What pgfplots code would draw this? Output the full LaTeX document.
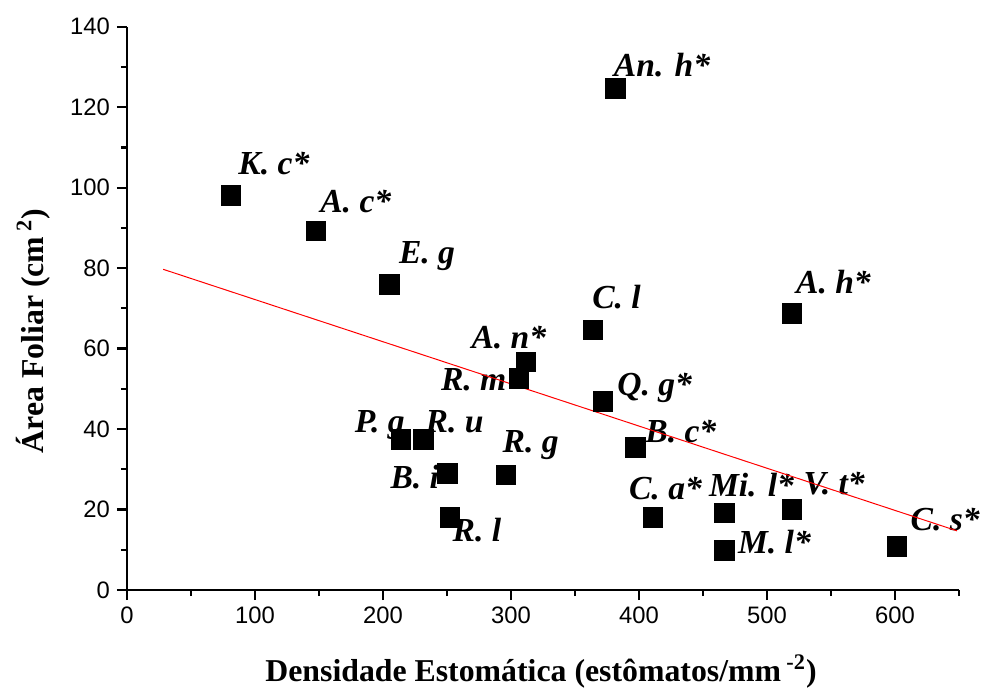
\documentclass[border=0pt]{standalone}
\usepackage{pgfplots}
\pgfplotsset{compat=1.18}
\usepackage{fontspec}
\setmainfont{Liberation Serif}
\newfontfamily\arial{Liberation Sans}
\tikzset{lab/.style={anchor=base west, inner sep=0pt, font=\bfseries\itshape\fontsize{16.8}{18}\selectfont}}

\pgfplotstableread{
x y
81.3 98.0
147.6 89.2
205.2 76.0
381.7 124.7
364.0 64.6
519.3 68.8
311.5 56.7
306.3 52.6
371.8 46.8
397.3 35.5
296.0 28.6
411.0 18.1
466.9 19.2
466.9 9.8
519.3 20.1
601.5 10.8
214.1 37.4
231.5 37.4
250.4 29.0
252.3 18.1
}\pts

\begin{document}
\begin{tikzpicture}
\useasboundingbox (-63.5pt,-48.5pt) rectangle (427.5pt,295pt);
\begin{axis}[
  at={(0,0)}, anchor=south west,
  scale only axis, width=416pt, height=281.65pt,
  xmin=0, xmax=650, ymin=0, ymax=140,
  axis x line=bottom, axis y line=left,
  axis line style={-, line width=1.2pt, black},
  xtick={0,100,...,600}, minor xtick={50,150,...,650},
  ytick={0,20,...,140}, minor ytick={10,30,...,130},
  tick align=outside, major tick length=5pt, minor tick length=3pt,
  tick style={line width=1.1pt, black},
  ticklabel style={font=\arial\fontsize{11.9}{13}\selectfont},
  /pgf/number format/assume math mode=true,
  xlabel={Densidade Estomática (estômatos/mm\,\textsuperscript{-2})},
  ylabel={Área Foliar (cm\,\textsuperscript{2})},
  xlabel style={at={(axis description cs:0.4976,-0.163)}, anchor=base, font=\bfseries\fontsize{15.9}{18}\selectfont},
  ylabel style={at={(axis description cs:-0.0998,0.46)}, anchor=base, font=\bfseries\fontsize{15.9}{18}\selectfont},
  clip=false,
]
\node[lab, xshift=3.5pt, yshift=10.5pt] at (axis cs:81.3,98.0) {K. c*};
\node[lab, xshift=2pt, yshift=9.5pt] at (axis cs:147.6,89.2) {A. c*};
\node[lab, xshift=4.5pt, yshift=10.5pt] at (axis cs:205.2,76.0) {E. g};
\node[lab, xshift=-1pt, yshift=6pt] at (axis cs:381.7,124.7) {An. h*};
\node[lab, xshift=-0.5pt, yshift=11pt] at (axis cs:364.0,64.6) {C. l};
\node[lab, xshift=2pt, yshift=10pt] at (axis cs:519.3,68.8) {A. h*};
\node[lab, xshift=-27.3pt, yshift=6.8pt] at (axis cs:311.5,56.7) {A. n*};
\node[lab, xshift=-39.2pt, yshift=-6.3pt] at (axis cs:306.3,52.6) {R. m};
\node[lab, xshift=7pt, yshift=3.3pt] at (axis cs:371.8,46.8) {Q. g*};
\node[lab, xshift=4.7pt, yshift=2.2pt] at (axis cs:397.3,35.5) {B. c*};
\node[lab, xshift=-1.8pt, yshift=11pt] at (axis cs:296.0,28.6) {R. g};
\node[lab, xshift=-12.2pt, yshift=8.7pt] at (axis cs:411.0,18.1) {C. a*};
\node[lab, xshift=-8pt, yshift=8.3pt] at (axis cs:466.9,19.2) {Mi. l*};
\node[lab, xshift=6.5pt, yshift=-1.7pt] at (axis cs:466.9,9.8) {M. l*};
\node[lab, xshift=5.8pt, yshift=7.5pt] at (axis cs:519.3,20.1) {V. t*};
\node[lab, xshift=6.7pt, yshift=7.8pt] at (axis cs:601.5,10.8) {C. s*};
\node[lab, xshift=-23.3pt, yshift=3.7pt] at (axis cs:214.1,37.4) {P. g};
\node[lab, xshift=1pt, yshift=3.7pt] at (axis cs:231.5,37.4) {R. u};
\node[lab, xshift=-28.7pt, yshift=-7.8pt] at (axis cs:250.4,29.0) {B. i};
\node[lab, xshift=1.2pt, yshift=-12.3pt] at (axis cs:252.3,18.1) {R. l};
\addplot[red, line width=0.5pt] coordinates {(28.3,79.7) (648.5,14.7)};
\addplot[only marks, mark=square*, mark size=4.9pt, black] table {\pts};
\end{axis}
\end{tikzpicture}
\end{document}
